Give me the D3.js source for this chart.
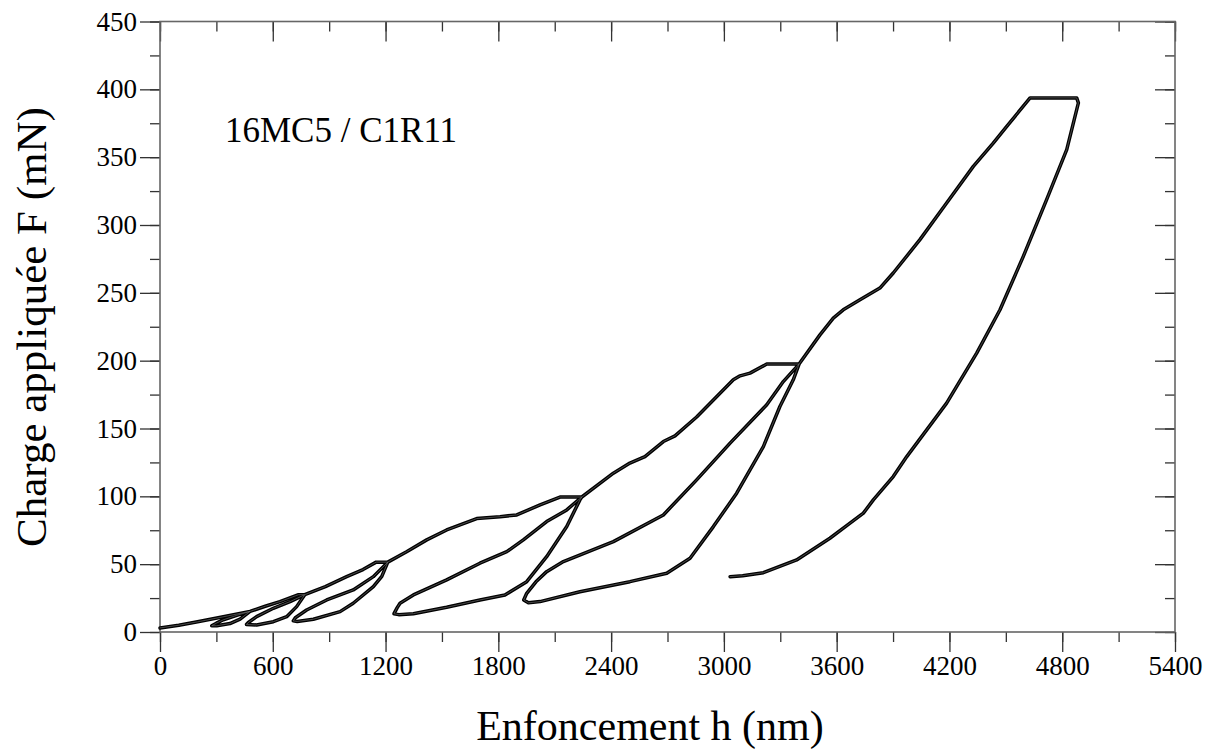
<!DOCTYPE html>
<html>
<head>
<meta charset="utf-8">
<script src="https://cdn.jsdelivr.net/npm/d3@7"></script>
<style>
  html, body { margin: 0; padding: 0; background: #fff; }
  svg { display: block; }
  text { font-family: "Liberation Serif", "Times New Roman", serif; fill: #000; }
</style>
</head>
<body>
<svg id="chart" width="1221" height="756"></svg>
<script>
// ---- Data: depth h (nm), force F (mN), in drawing order ----
const load0   = [[0,3],[100,5],[200,7.5],[330,11],[479,15.2]];
const unload1 = [[479,15.2],[426,9.5],[372,6.2],[302,4.6],[275,4.6]];
const reload1 = [[275,4.6],[300,6.5],[337,9],[408,12.3],[479,15.2]];
const load1   = [[479,15.2],[560,19],[638,22.4],[737,27.5],[770,27.5]];
const unload2 = [[770,27.5],[727,18.7],[674,11.3],[603,7.6],[514,5.2],[460,5.5]];
const reload2 = [[460,5.5],[470,7],[514,11.3],[603,17.5],[692,22.4],[770,27.5]];
const load2   = [[770,27.5],[880,33.5],[993,40.8],[1080,46],[1150,51.5],[1212,51.5]];
const unload3 = [[1212,51.5],[1180,41],[1135,33.4],[1028,21.2],[958,15],[816,9.4],[730,7.8],[709,8.2]];
const reload3 = [[709,8.2],[720,10.5],[780,16.2],[887,23.6],[1028,31],[1135,40.8],[1212,51.5]];
const load3   = [[1212,51.5],[1312,59.2],[1419,67.9],[1525,75.2],[1596,78.9],[1685,83.6],[1809,85],[1898,86.3],[2022,93.7],[2128,99.5],[2244,99.5]];
const unload4 = [[2244,99.5],[2234,97.4],[2164,77.7],[2057,55.5],[1951,37.1],[1835,27.3],[1702,23.6],[1525,18.2],[1348,13.5],[1270,12.8],[1245,13.5]];
const reload4 = [[1245,13.5],[1262,18],[1277,21.2],[1348,27.3],[1525,38.4],[1702,50.7],[1845,59.2],[1933,67.9],[2057,81.4],[2164,90],[2244,99.5]];
const load4   = [[2244,99.5],[2412,117.1],[2500,124.5],[2580,129.3],[2678,140.4],[2740,144.6],[2855,158.5],[3050,185.9],[3086,188.8],[3139,190.8],[3228,197.5],[3400,197.5]];
const unload5 = [[3400,197.5],[3369,185.9],[3298,166.2],[3210,136.7],[3068,102.3],[2944,77.7],[2820,54.4],[2696,43.3],[2500,37.1],[2234,29.7],[2022,22.4],[1960,21.5],[1935,23.6]];
const reload5 = [[1935,23.6],[1951,28.5],[2000,37],[2057,44.5],[2146,51.9],[2412,66.6],[2678,86.3],[2855,112.1],[3033,139.2],[3228,167.5],[3316,184.6],[3400,197.5]];
const load5   = [[3400,197.5],[3511,219],[3582,231.4],[3635,237.5],[3724,244.9],[3830,253.5],[3901,264.6],[4043,289.2],[4185,316.2],[4327,343.2],[4433,360.4],[4505,372.7],[4629,393.7],[4877,393.7]];
const unload6 = [[4877,393.7],[4886,390],[4824,355.6],[4717,318.7],[4593,276.9],[4469,237.5],[4345,205.6],[4185,168.7],[3973,129.3],[3901,114.6],[3795,97.4],[3742,87.6],[3671,80.2],[3564,69.1],[3387,53.1],[3210,43.7],[3100,41.5],[3033,40.8]];

const segments = [load0, unload1, reload1, load1, unload2, reload2, load2, unload3, reload3,
                  load3, unload4, reload4, load4, unload5, reload5, load5, unload6];

const xMajor = [0,600,1200,1800,2400,3000,3600,4200,4800,5400];
const yMajor = [0,50,100,150,200,250,300,350,400,450];
const xTitle = "Enfoncement h (nm)";
const yTitle = "Charge appliquée F (mN)";
const annotation = "16MC5 / C1R11";

// ---- Layout ----
const L = 160, R = 1175, T = 21.5, B = 632;
const svg = d3.select("#chart");
const x = d3.scaleLinear().domain([0, 5400]).range([L, R]);
const y = d3.scaleLinear().domain([0, 450]).range([B, T]);

const xMinor = d3.range(0, 5401, 300);
const yMinor = d3.range(0, 451, 25);
const axisColor = "#666";

function styleAxis(g) {
  g.select(".domain").remove();
  g.selectAll(".tick line").attr("stroke", "#333").attr("stroke-width", 1.3);
}

// bottom: ticks outward
svg.append("g").attr("transform", `translate(0,${B})`)
  .call(d3.axisBottom(x).tickValues(xMinor).tickSize(10).tickFormat(""))
  .call(styleAxis);
svg.append("g").attr("transform", `translate(0,${B})`)
  .call(d3.axisBottom(x).tickValues(xMajor).tickSize(20).tickPadding(4).tickFormat(d3.format("d")))
  .call(styleAxis)
  .call(g => g.selectAll("text").style("font-size", "27px").style("font-family", "Liberation Serif").attr("fill", "#000"));
// top: ticks inward
svg.append("g").attr("transform", `translate(0,${T})`)
  .call(d3.axisBottom(x).tickValues(xMinor).tickSize(10).tickFormat(""))
  .call(styleAxis);
svg.append("g").attr("transform", `translate(0,${T})`)
  .call(d3.axisBottom(x).tickValues(xMajor).tickSize(20).tickFormat(""))
  .call(styleAxis);
// left: ticks outward
svg.append("g").attr("transform", `translate(${L},0)`)
  .call(d3.axisLeft(y).tickValues(yMinor).tickSize(10).tickFormat(""))
  .call(styleAxis);
svg.append("g").attr("transform", `translate(${L},0)`)
  .call(d3.axisLeft(y).tickValues(yMajor).tickSize(20).tickPadding(3).tickFormat(d3.format("d")))
  .call(styleAxis)
  .call(g => g.selectAll("text").style("font-size", "27px").style("font-family", "Liberation Serif").attr("fill", "#000"));
// right: ticks inward
svg.append("g").attr("transform", `translate(${R},0)`)
  .call(d3.axisLeft(y).tickValues(yMinor).tickSize(10).tickFormat(""))
  .call(styleAxis);
svg.append("g").attr("transform", `translate(${R},0)`)
  .call(d3.axisLeft(y).tickValues(yMajor).tickSize(20).tickFormat(""))
  .call(styleAxis);

// frame
svg.append("rect").attr("x", L).attr("y", T).attr("width", R - L).attr("height", B - T)
  .attr("fill", "none").attr("stroke", axisColor).attr("stroke-width", 1.6);

// curve
const pts = [];
segments.forEach((s, i) => s.forEach((p, j) => { if (i === 0 || j > 0) pts.push(p); }));
const line = d3.line().x(d => x(d[0])).y(d => y(d[1])).curve(d3.curveLinear);
svg.append("path").datum(pts).attr("d", line)
  .attr("fill", "none").attr("stroke", "#000").attr("stroke-width", 3.5)
  .attr("stroke-linejoin", "round").attr("stroke-linecap", "round");
svg.append("path").datum(pts).attr("d", line)
  .attr("fill", "none").attr("stroke", "#7a7a7a").attr("stroke-width", 0.6)
  .attr("stroke-linejoin", "round").attr("stroke-linecap", "round");

// annotation
svg.append("text").attr("x", 225).attr("y", 142).style("font-size", "35px").text(annotation);

// titles
svg.append("text").attr("x", 650).attr("y", 740).attr("text-anchor", "middle")
  .style("font-size", "42px").text(xTitle);
svg.append("text").attr("transform", `translate(46,327) rotate(-90)`)
  .attr("text-anchor", "middle").style("font-size", "43px").text(yTitle);
</script>
</body>
</html>
